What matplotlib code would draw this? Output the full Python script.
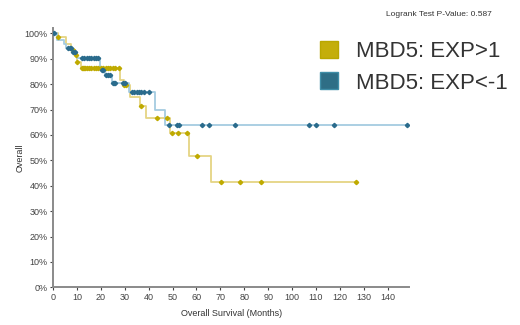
import numpy as np
import matplotlib
matplotlib.use("Agg")
import matplotlib.pyplot as plt
import matplotlib.patches as mpatches

plt.rcParams['font.family'] = ['Liberation Sans', 'DejaVu Sans']

# Kaplan-Meier steps: drop times (months) and survival (%) after each drop
gold_drop_t = [2, 5.5, 7.5, 9, 10, 11.5, 28, 29.5, 32, 36.5, 39, 49, 56.7, 66]
gold_drop_s = [98.5, 96, 93.5, 91.5, 88.8, 86.2, 81.6, 79.6, 75, 71.4, 66.5, 60.9, 51.7, 41.6]
gold_end = 126.6
gold_cens = [2.2, 8.5, 9.6, 10.2, 12, 12.5, 13, 13.5, 14, 15, 16, 17, 18, 19, 20, 21,
             22, 23, 24, 25, 26, 27.4, 29.8, 30.6, 36.8, 43.5, 47.6, 49.7, 52.1, 56,
             60.2, 70.3, 78.4, 86.8, 126.6]

blue_drop_t = [1.5, 4.5, 5.5, 8, 9.9, 19.7, 21.8, 24.6, 31.6, 42.7, 47]
blue_drop_s = [97.4, 96, 94.1, 92.8, 90.2, 85.5, 83.6, 80.6, 77, 70, 63.9]
blue_end = 148.2
blue_cens = [0.3, 6.4, 7, 7.5, 8.5, 9.2, 12, 13, 14, 15, 16, 17, 18, 19, 20.5, 21,
             22.3, 23, 23.7, 25, 25.5, 26, 29.4, 30.2, 33, 34, 35, 36, 37, 38, 40,
             48.3, 51.8, 52.5, 62.3, 65.1, 76.3, 107, 109.8, 117.5, 148.2]

labels = ["MBD5: EXP>1", "MBD5: EXP<-1"]
pvalue = 0.587


def km_curve(drop_t, drop_s, end):
    t = [0] + list(drop_t) + [end]
    s = [100] + list(drop_s) + [drop_s[-1]]
    return np.array(t), np.array(s)


def surv_at(t_arr, s_arr, x):
    idx = np.searchsorted(t_arr, x, side='right') - 1
    return s_arr[idx]


fig = plt.figure(figsize=(5.2, 3.25), dpi=100)
ax = fig.add_axes([0.102, 0.116, 0.685, 0.797])

series = [
    (gold_drop_t, gold_drop_s, gold_end, gold_cens, '#E5D484', '#BFAA00'),
    (blue_drop_t, blue_drop_s, blue_end, blue_cens, '#A5CCE0', '#2A6B8C'),
]
for drop_t, drop_s, end, cens, lc, mc in series:
    t, s = km_curve(drop_t, drop_s, end)
    ax.step(t, s, where='post', color=lc, lw=1.3, zorder=2)
    cy = surv_at(t, s, np.array(cens))
    ax.plot(cens, cy, 'D', ms=2.2, color=mc, zorder=3, lw=0)

ax.set_xlim(0, 149)
ax.set_ylim(0, 102)
ax.set_xticks(np.arange(0, 141, 10))
ax.set_yticks(np.arange(0, 101, 10))
ax.set_yticklabels([f"{v}%" for v in range(0, 101, 10)])
ax.tick_params(labelsize=6.5, colors='#444444', length=2.5, width=0.8, pad=1.5)
for side in ['top', 'right']:
    ax.spines[side].set_visible(False)
for side in ['left', 'bottom']:
    ax.spines[side].set_color('#8a8a8a')
    ax.spines[side].set_linewidth(1.4)

ax.set_xlabel("Overall Survival (Months)", fontsize=6.5, color='#333333', labelpad=5)
ax.set_ylabel("Overall", fontsize=6.5, color='#333333', labelpad=0)

fig.text(0.945, 0.955, f"Logrank Test P-Value: {pvalue}", fontsize=6,
         color='#333333', ha='right', va='center')

handles = [
    mpatches.Patch(facecolor='#C4AE0A', edgecolor='#B9A700', label=labels[0]),
    mpatches.Patch(facecolor='#2E6E86', edgecolor='#3F8EA8', label=labels[1]),
]
fig.legend(handles=handles, loc='upper left', bbox_to_anchor=(0.577, 0.935),
           frameon=False, fontsize=16, handlelength=0.8, handleheight=0.8,
           handletextpad=0.8, labelspacing=0.45, labelcolor='#333333')

fig.savefig("out.png", dpi=100)
